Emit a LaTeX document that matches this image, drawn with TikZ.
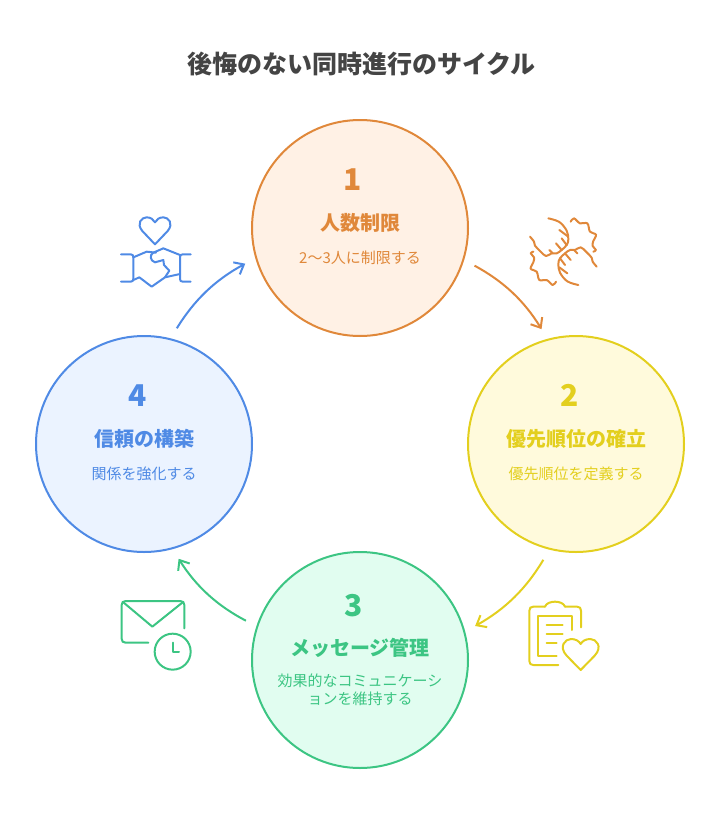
\documentclass[tikz,border=0pt]{standalone}
\usepackage{fontspec}
\setmainfont{Noto Sans CJK JP}
\usetikzlibrary{arrows.meta}
\definecolor{titlegray}{HTML}{444444}
\definecolor{orangeline}{HTML}{E0883A}
\definecolor{orangefill}{HTML}{FFF1E5}
\definecolor{yellowline}{HTML}{E3CF1E}
\definecolor{yellowfill}{HTML}{FFFADC}
\definecolor{greenline}{HTML}{3CC583}
\definecolor{greenfill}{HTML}{E1FDF0}
\definecolor{blueline}{HTML}{4F8AE5}
\definecolor{bluefill}{HTML}{EBF3FF}
\tikzset{
  stepcircle/.style={circle, line width=1.5pt, minimum size=162pt, inner sep=0pt, outer sep=0pt},
  numtext/.style={font=\fontsize{22.5}{22.5}\selectfont\bfseries, inner sep=0pt},
  labeltext/.style={font=\fontsize{15}{15}\selectfont\bfseries, inner sep=0pt},
  desctext/.style={font=\fontsize{11.25}{13.5}\selectfont, inner sep=0pt, align=center},
  flowline/.style={-{Straight Barb[length=2.2mm,width=3.6mm]}, line width=1.5pt, shorten <=9.6pt, shorten >=9.3pt},
  iconline/.style={line width=1.5pt, line cap=round, line join=round}
}
\begin{document}
\begin{tikzpicture}[x=0.75pt, y=-0.75pt]
      \useasboundingbox (0,0) rectangle (720,828);
      \node[text=titlegray, inner sep=0pt, font=\fontsize{18.75}{18.75}\selectfont\bfseries] (title) at (361.5,64) {後悔のない同時進行のサイクル};
      % circles
      \node[stepcircle, draw=orangeline, fill=orangefill] (limit) at (360,228) {};
      \node[stepcircle, draw=yellowline, fill=yellowfill] (priority) at (576,444) {};
      \node[stepcircle, draw=greenline, fill=greenfill] (message) at (360,660) {};
      \node[stepcircle, draw=blueline, fill=bluefill] (trust) at (144,444) {};
      % arrows
      \draw[flowline, orangeline] (limit.-17) to[bend left=15] (priority.105);
      \draw[flowline, yellowline] (priority.-104) to[bend left=15] (message.15);
      \draw[flowline, greenline] (message.162.5) to[bend left=15] (trust.-75);
      \draw[flowline, blueline] (trust.76) to[bend left=15] (limit.196);
      % texts
      \node[numtext, text=orangeline] (num1) at (353,180) {1};
      \node[labeltext, text=orangeline] (label1) at (360,223) {人数制限};
      \node[desctext, text=orangeline] (desc1) at (360,258) {2〜3人に制限する};
      \node[numtext, text=yellowline] (num2) at (569.5,395.5) {2};
      \node[labeltext, text=yellowline] (label2) at (576,439) {優先順位の確立};
      \node[desctext, text=yellowline] (desc2) at (576,474) {優先順位を定義する};
      \node[numtext, text=greenline] (num3) at (353.5,605.5) {3};
      \node[labeltext, text=greenline] (label3) at (360,648) {メッセージ管理};
      \node[desctext, text=greenline] (desc3) at (360,690) {効果的なコミュニケーシ\\ョンを維持する};
      \node[numtext, text=blueline] (num4) at (137.5,395.5) {4};
      \node[labeltext, text=blueline] (label4) at (144,439) {信頼の構築};
      \node[desctext, text=blueline] (desc4) at (144,474) {関係を強化する};
      % handshake icon
      \begin{scope}[shift={(100,200)}, scale=1/3, iconline, blueline]
        \draw (165,133) -- (127,93) .. controls (108,70) and (125,52) .. (140,52) .. controls (152,52) and (160,58) .. (165,67) .. controls (170,58) and (178,52) .. (190,52) .. controls (205,52) and (222,70) .. (203,93) -- cycle;
        \draw (63,163) -- (92,163) .. controls (98,163) and (100,166) .. (100,172) -- (100,236) .. controls (100,242) and (98,245) .. (92,245) -- (63,245);
        \draw (272,163) -- (248,163) .. controls (242,163) and (240,166) .. (240,172) -- (240,236) .. controls (240,242) and (242,245) .. (248,245) -- (272,245);
        \draw (100,172) -- (140,155) -- (168,158);
        \draw (100,240) -- (118,232) -- (155,260) -- (195,232) -- (240,222);
        \draw (240,165) -- (190,145) -- (160,158) .. controls (148,165) and (150,182) .. (165,187) -- (190,180) -- (192,195) -- (208,212) -- (195,232);
      \end{scope}
      % hands icon
      \begin{scope}[shift={(510,200)}, scale=1/3, iconline, orangeline]
        \foreach \turn in {0,180} {
          \begin{scope}[rotate around={\turn:(160,155)}]
            \draw plot[smooth, tension=0.6] coordinates {(60,110) (72,125) (75,137) (92,155) (108,168) (125,160) (140,160) (155,150) (170,135) (175,118) (170,92) (148,66) (115,55)};
            \draw (118,150) -- (128,160);
            \draw (138,130) -- (155,150);
            \draw (155,115) -- (170,135);
            \draw (148,90) -- (172,108);
            \draw plot[smooth, tension=0.6] coordinates {(70,155) (62,160) (72,172) (70,187) (62,206) (80,215) (88,240) (110,240) (128,255) (138,245)};
          \end{scope}
        }
      \end{scope}
      % clipboard icon
      \begin{scope}[shift={(510,590)}, scale=1/3, iconline, yellowline]
        \draw (105,50) -- (70,50) .. controls (62,50) and (58,54) .. (58,62) -- (58,213) .. controls (58,221) and (62,225) .. (70,225) -- (145,225);
        \draw (213,112) -- (213,62) .. controls (213,54) and (209,50) .. (201,50) -- (165,50);
        \draw (105,50) .. controls (112,30) and (158,30) .. (165,50);
        \draw (185,120) -- (185,78) -- (85,78) -- (85,197) -- (140,197);
        \draw (110,105) -- (158,105);
        \draw (110,132) -- (158,132);
        \draw (110,160) -- (140,160);
        \draw (212,240) -- (170,197) .. controls (145,170) and (165,147) .. (183,147) .. controls (197,147) and (207,153) .. (212,162) .. controls (217,153) and (227,147) .. (241,147) .. controls (259,147) and (279,170) .. (254,197) -- cycle;
      \end{scope}
      % mail icon
      \begin{scope}[shift={(100,590)}, scale=1/3, iconline, greenline]
        \draw (253,115) -- (253,45) .. controls (253,37) and (249,33) .. (241,33) -- (77,33) .. controls (69,33) and (65,37) .. (65,45) -- (65,146) .. controls (65,154) and (69,158) .. (77,158) -- (145,158);
        \draw (70,37) -- (157,110) -- (248,37);
        \draw (218,185) circle (54);
        \draw (218,158) -- (218,187) -- (237,187);
      \end{scope}
    \end{tikzpicture}
\end{document}
